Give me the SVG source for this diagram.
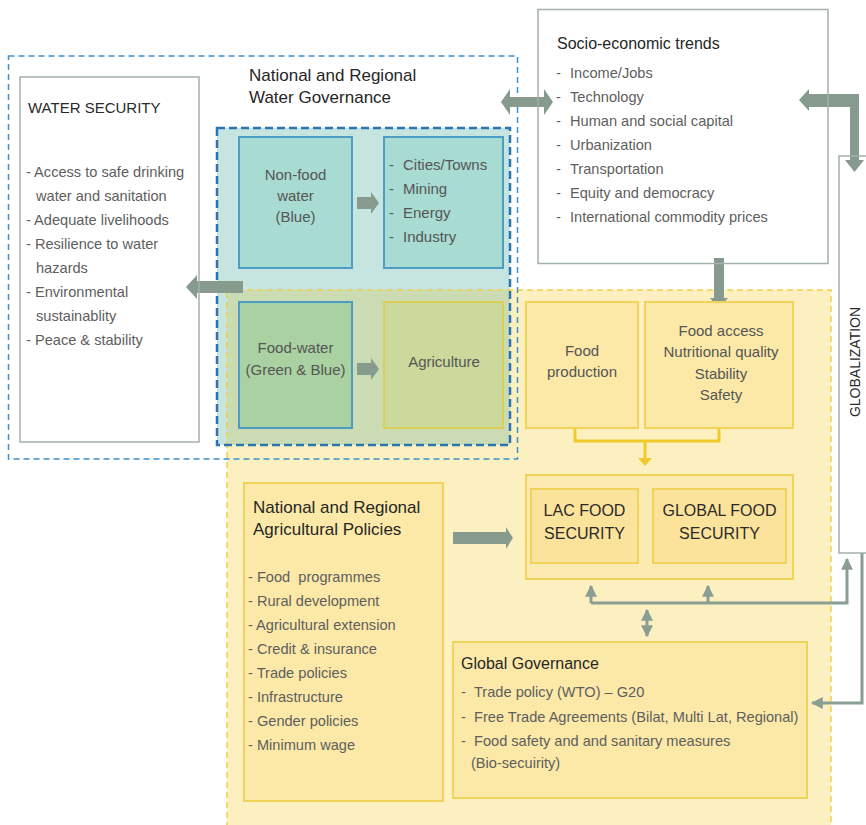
<svg xmlns="http://www.w3.org/2000/svg" width="866" height="825" viewBox="0 0 866 825">
<defs>
<style>
text{font-family:"Liberation Sans","Noto Sans",sans-serif;}
.t{font-size:16.5px;fill:#262626;}
.ti{font-size:17px;fill:#262626;}
.it{font-size:14.6px;fill:#5e5e5e;}
.in{font-size:15px;fill:#555;}
.big{font-size:16px;fill:#2a2a2a;}
.wbox{fill:none;stroke:#a3b1a9;stroke-width:1.5;}
.teal{fill:#a8dbd1;stroke:#4c9cc4;stroke-width:2;}
.fw{fill:#aad1a1;stroke:#4c9cc4;stroke-width:2;}
.agr{fill:#cbd99c;stroke:#dccf55;stroke-width:2;}
.yb{fill:#fce9a8;stroke:#f2d35a;stroke-width:2;}
.yb2{fill:#fce39b;stroke:#f2d35a;stroke-width:2;}
.thick{fill:#869a8d;}
.thin{fill:none;stroke:#8a9e94;stroke-width:3;}
.c{text-anchor:middle;}
</style>
<marker id="ah" viewBox="0 0 10 10" refX="9" refY="5" markerWidth="12" markerHeight="12" markerUnits="userSpaceOnUse" orient="auto-start-reverse">
<path d="M0,0 L10,5 L0,10 Z" fill="#8a9e94"/>
</marker>
</defs>

<!-- regions -->
<g id="regions">
<rect x="227" y="290" width="604" height="545" fill="#fcf0c0"/>
<rect x="217" y="128" width="293" height="317" fill="#c6e5e0"/>
<rect x="227" y="290" width="283" height="155" fill="#cbdcb5"/>
<rect x="227" y="290" width="604" height="545" fill="none" stroke="#f0d048" stroke-width="1.5" stroke-dasharray="6 4"/>
<rect x="217" y="128" width="293" height="317" fill="none" stroke="#2a74b2" stroke-width="2.5" stroke-dasharray="8 4"/>
<rect x="8.5" y="56" width="509" height="403" fill="none" stroke="#3d8fcf" stroke-width="1.5" stroke-dasharray="6 4"/>
<text class="ti" x="249" y="81">National and Regional</text>
<text class="ti" x="249" y="103">Water Governance</text>
</g>

<!-- connectors -->
<g id="connectors">
<polygon class="thick" points="501,102 510,89 510,97 544,97 544,89 553,102 544,115 544,107 510,107 510,115"/>
<polygon class="thick" points="186,287 197,275 197,281 243,281 243,293 197,293 197,299"/>
<polygon class="thick" points="357,197 371,197 371,192 379,203 371,214 371,209 357,209"/>
<polygon class="thick" points="357,363 371,363 371,358 379,369 371,380 371,375 357,375"/>
<polygon class="thick" points="714,258 724,258 724,298 728,298 719,309 710,298 714,298"/>
<polygon class="thick" points="799,100 809,89 809,94 859,94 859,160 864,160 854.5,172 845,160 850,160 850,107 809,107 809,111"/>
<polygon class="thick" points="453,532 506,532 506,527 513,538 506,549 506,544 453,544"/>
<path d="M575,428 V441 H719 V428 M645,441 V459" fill="none" stroke="#f0c92a" stroke-width="3"/>
<polygon points="638,458 652,458 645,466" fill="#f0c92a"/>
<path class="thin" d="M591,603 H847 V559" marker-end="url(#ah)"/>
<path class="thin" d="M591,603 V586" marker-end="url(#ah)"/>
<path class="thin" d="M708,603 V586" marker-end="url(#ah)"/>
<path class="thin" d="M647,610 V636" marker-start="url(#ah)" marker-end="url(#ah)"/>
<path class="thin" d="M862,553 V703 H812" marker-end="url(#ah)"/>
</g>

<!-- nodes -->
<g id="water-security">
<rect class="wbox" x="20" y="77" width="179" height="365"/>
<text class="big" x="28" y="113" style="font-size:15px">WATER SECURITY</text>
<text class="it" x="26" y="177">- Access to safe drinking</text>
<text class="it" x="36" y="201">water and sanitation</text>
<text class="it" x="26" y="225">- Adequate livelihoods</text>
<text class="it" x="26" y="249">- Resilience to water</text>
<text class="it" x="36" y="273">hazards</text>
<text class="it" x="26" y="297">- Environmental</text>
<text class="it" x="36" y="321">sustainablity</text>
<text class="it" x="26" y="345">- Peace &amp; stability</text>
</g>

<g id="socio-economic">
<rect class="wbox" x="538" y="9.5" width="290" height="254"/>
<text class="t" x="557" y="49" style="font-size:16px">Socio-economic trends</text>
<g class="it">
<text x="556" y="78">-</text><text x="570" y="78">Income/Jobs</text>
<text x="556" y="102">-</text><text x="570" y="102">Technology</text>
<text x="556" y="126">-</text><text x="570" y="126">Human and social capital</text>
<text x="556" y="150">-</text><text x="570" y="150">Urbanization</text>
<text x="556" y="174">-</text><text x="570" y="174">Transportation</text>
<text x="556" y="198">-</text><text x="570" y="198">Equity and democracy</text>
<text x="556" y="222">-</text><text x="570" y="222">International commodity prices</text>
</g>
</g>

<g id="globalization">
<rect x="839" y="156" width="40" height="397" fill="none" stroke="#a3b1a9" stroke-width="1.5"/>
<text class="big c" transform="translate(860,362) rotate(-90)" style="font-size:14px">GLOBALIZATION</text>
</g>

<g id="non-food-water">
<rect class="teal" x="239" y="137" width="113" height="131"/>
<text class="in c" x="295.5" y="180">Non-food</text>
<text class="in c" x="295.5" y="201">water</text>
<text class="in c" x="295.5" y="222">(Blue)</text>
</g>

<g id="cities">
<rect class="teal" x="384" y="137" width="119" height="131"/>
<g class="in">
<text x="389" y="170">-</text><text x="403" y="170">Cities/Towns</text>
<text x="389" y="194">-</text><text x="403" y="194">Mining</text>
<text x="389" y="218">-</text><text x="403" y="218">Energy</text>
<text x="389" y="242">-</text><text x="403" y="242">Industry</text>
</g>
</g>

<g id="food-water">
<rect class="fw" x="239" y="302" width="113" height="126"/>
<text class="in c" x="295.5" y="353">Food-water</text>
<text class="in c" x="295.5" y="375">(Green &amp; Blue)</text>
</g>

<g id="agriculture">
<rect class="agr" x="384" y="302" width="119" height="126"/>
<text class="in c" x="444" y="367">Agriculture</text>
</g>

<g id="food-production">
<rect class="yb" x="526" y="302" width="112" height="126"/>
<text class="in c" x="582" y="356">Food</text>
<text class="in c" x="582" y="377">production</text>
</g>

<g id="food-access">
<rect class="yb" x="645" y="302" width="148" height="126"/>
<text class="in c" x="721" y="336">Food access</text>
<text class="in c" x="721" y="357">Nutritional quality</text>
<text class="in c" x="721" y="379">Stability</text>
<text class="in c" x="721" y="400">Safety</text>
</g>

<g id="food-security">
<rect x="526" y="475" width="267" height="104" fill="#fcebb0" stroke="#f2d35a" stroke-width="2"/>
</g>

<g id="lac-food-security">
<rect class="yb2" x="531" y="489" width="107" height="74"/>
<text class="big c" x="584.5" y="516">LAC FOOD</text>
<text class="big c" x="584.5" y="539">SECURITY</text>
</g>

<g id="global-food-security">
<rect class="yb2" x="653" y="489" width="133" height="74"/>
<text class="big c" x="719.5" y="516">GLOBAL FOOD</text>
<text class="big c" x="719.5" y="539">SECURITY</text>
</g>

<g id="agricultural-policies">
<rect class="yb" x="244" y="483" width="199" height="318"/>
<text class="ti" x="253" y="513">National and Regional</text>
<text class="ti" x="253" y="535">Agricultural Policies</text>
<g class="it">
<text x="248" y="582" style="white-space:pre">- Food  programmes</text>
<text x="248" y="606">- Rural development</text>
<text x="248" y="630">- Agricultural extension</text>
<text x="248" y="654">- Credit &amp; insurance</text>
<text x="248" y="678">- Trade policies</text>
<text x="248" y="702">- Infrastructure</text>
<text x="248" y="726">- Gender policies</text>
<text x="248" y="750">- Minimum wage</text>
</g>
</g>

<g id="global-governance">
<rect class="yb" x="453" y="642" width="354" height="156"/>
<text class="t" x="461" y="669" style="font-size:16px">Global Governance</text>
<g class="it">
<text x="461" y="697">-</text><text x="474" y="697">Trade policy (WTO) – G20</text>
<text x="461" y="722">-</text><text x="474" y="722">Free Trade Agreements (Bilat, Multi Lat, Regional)</text>
<text x="461" y="746">-</text><text x="474" y="746">Food safety and and sanitary measures</text>
<text x="471" y="768">(Bio-secuirity)</text>
</g>
</g>
</svg>
